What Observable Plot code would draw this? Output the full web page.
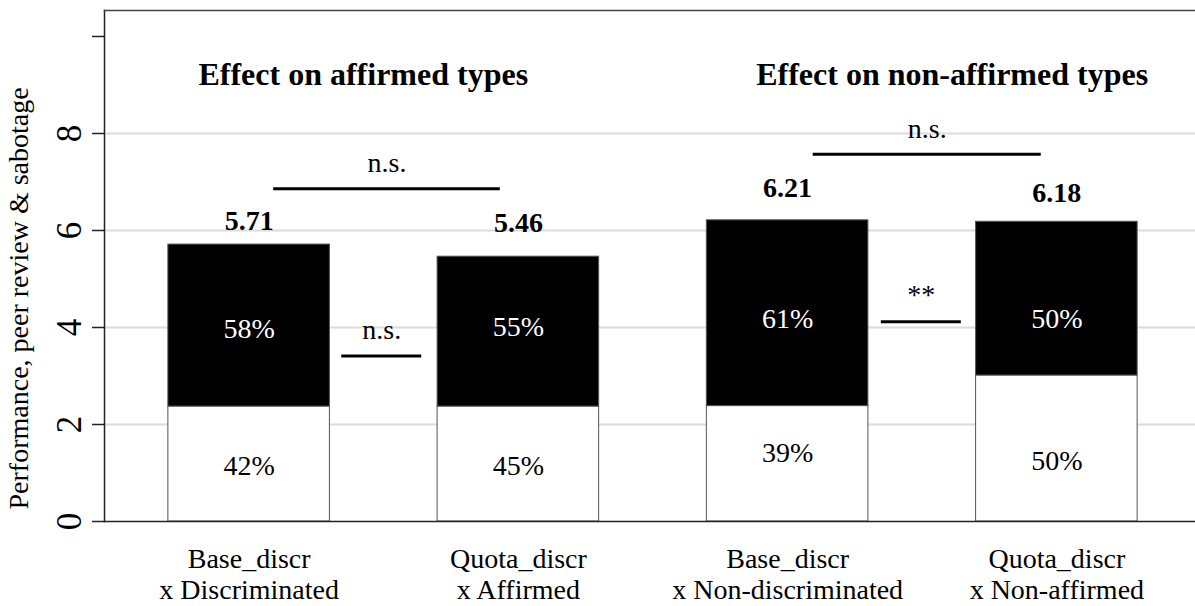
<!DOCTYPE html>
<html><head><meta charset="utf-8">
<script src="https://cdn.jsdelivr.net/npm/d3@7"></script>
<script src="https://cdn.jsdelivr.net/npm/@observablehq/plot@0.6"></script>
<style>body{margin:0;background:#fff} svg{display:block}</style>
</head><body><div id="chart"></div>
<script>
// ---- data ----
const conditionLine1 = ["Base_discr", "Quota_discr", "Base_discr", "Quota_discr"];
const conditionLine2 = ["x Discriminated", "x Affirmed", "x Non-discriminated", "x Non-affirmed"];
const barPos = [1, 2, 3, 4];
const totals = [5.71, 5.46, 6.21, 6.18];
const lowerValues = [2.37, 2.37, 2.38, 3.01];
const upperShareLabels = ["58%", "55%", "61%", "50%"];
const lowerShareLabels = ["42%", "45%", "39%", "50%"];
const upperShareY = [3.97, 4.0, 4.18, 4.18];
const lowerShareY = [1.15, 1.15, 1.42, 1.25];
const totalLabelY = [6.02, 5.97, 6.69, 6.59];
const groupTitles = ["Effect on affirmed types", "Effect on non-affirmed types"];
const groupTitleX = [1.424, 3.611];
const groupTitleY = [8.99, 8.99];
const sigLabels = ["n.s.", "n.s.", "n.s.", "**"];
const sigX1 = [1.091, 3.095, 1.344, 3.348];
const sigX2 = [1.933, 3.942, 1.641, 3.645];
const sigLineY = [6.86, 7.57, 3.41, 4.12];
const sigLabelY = [7.20, 7.91, 3.77, 4.48];
const yTicks = [0, 2, 4, 6, 8, 10];
const yTickLabels = [0, 2, 4, 6, 8];
const gridValues = [2, 4, 6, 8];
const yLabel = "Performance, peer review & sabotage";

// ---- tables built from the arrays ----
const halfWidth = 0.3;
const bars = barPos.map((p, i) => ({
  pos: p, total: totals[i], lower: lowerValues[i],
  up: upperShareLabels[i], low: lowerShareLabels[i],
  upY: upperShareY[i], lowY: lowerShareY[i], totY: totalLabelY[i],
  l1: conditionLine1[i], l2: conditionLine2[i]
}));
const titles = groupTitles.map((t, i) => ({t, x: groupTitleX[i], y: groupTitleY[i]}));
const sigs = sigLabels.map((s, i) => ({s, x1: sigX1[i], x2: sigX2[i], y: sigLineY[i], ly: sigLabelY[i]}));

const chart = Plot.plot({
  width: 1195,
  height: 606,
  marginLeft: 104,
  marginRight: 0,
  marginTop: 10,
  marginBottom: 85,
  style: {fontFamily: "'Liberation Serif', 'Times New Roman', serif", background: "white", color: "black"},
  x: {domain: [0.4628, 4.5149], axis: null},
  y: {domain: [0, 10.536], label: null},
  marks: [
    Plot.ruleY(gridValues, {stroke: "#dcdcdc", strokeWidth: 2}),
    Plot.rect(bars, {x1: d => d.pos - halfWidth, x2: d => d.pos + halfWidth, y1: 0, y2: "lower", fill: "white", stroke: "#555", strokeWidth: 1}),
    Plot.rect(bars, {x1: d => d.pos - halfWidth, x2: d => d.pos + halfWidth, y1: "lower", y2: "total", fill: "black", stroke: "#555", strokeWidth: 1}),
    Plot.text(bars, {x: "pos", y: "upY", text: "up", fill: "white", fontSize: 28}),
    Plot.text(bars, {x: "pos", y: "lowY", text: "low", fill: "black", fontSize: 28}),
    Plot.text(bars, {x: "pos", y: "totY", text: d => d.total.toFixed(2), fill: "black", fontSize: 28, fontWeight: "bold", lineAnchor: "bottom"}),
    Plot.ruleY(sigs, {x1: "x1", x2: "x2", y: "y", stroke: "black", strokeWidth: 3}),
    Plot.text(sigs, {x: d => (d.x1 + d.x2) / 2, y: "ly", text: "s", fill: "black", fontSize: 28, lineAnchor: "bottom"}),
    Plot.text(titles, {x: "x", y: "y", text: "t", fill: "black", fontSize: 32, fontWeight: "bold", lineAnchor: "bottom"}),
    // frame
    Plot.frame({anchor: "left", stroke: "#222", strokeWidth: 1.5}),
    Plot.frame({anchor: "top", stroke: "#444", strokeWidth: 1.5}),
    Plot.ruleY([0], {stroke: "#222", strokeWidth: 1.5}),
    // y axis
    Plot.axisY({ticks: yTicks, tickSize: 12, tickFormat: () => "", label: null, stroke: "#222", strokeWidth: 1.5}),
    Plot.text(yTickLabels, {frameAnchor: "left", y: d => d, text: d => String(d), rotate: -90, dx: -24, textAnchor: "middle", lineAnchor: "bottom", fontSize: 35, fill: "black"}),
    Plot.text([yLabel], {frameAnchor: "left", y: () => 4.6, text: d => d, rotate: -90, dx: -77, textAnchor: "middle", lineAnchor: "bottom", fontSize: 28, fill: "black"}),
    // x labels
    Plot.text(bars, {x: "pos", frameAnchor: "bottom", text: "l1", dy: 46, lineAnchor: "bottom", fontSize: 28, fill: "black"}),
    Plot.text(bars, {x: "pos", frameAnchor: "bottom", text: "l2", dy: 77, lineAnchor: "bottom", fontSize: 28, fill: "black"})
  ]
});
document.getElementById("chart").appendChild(chart);
</script>
</body></html>
